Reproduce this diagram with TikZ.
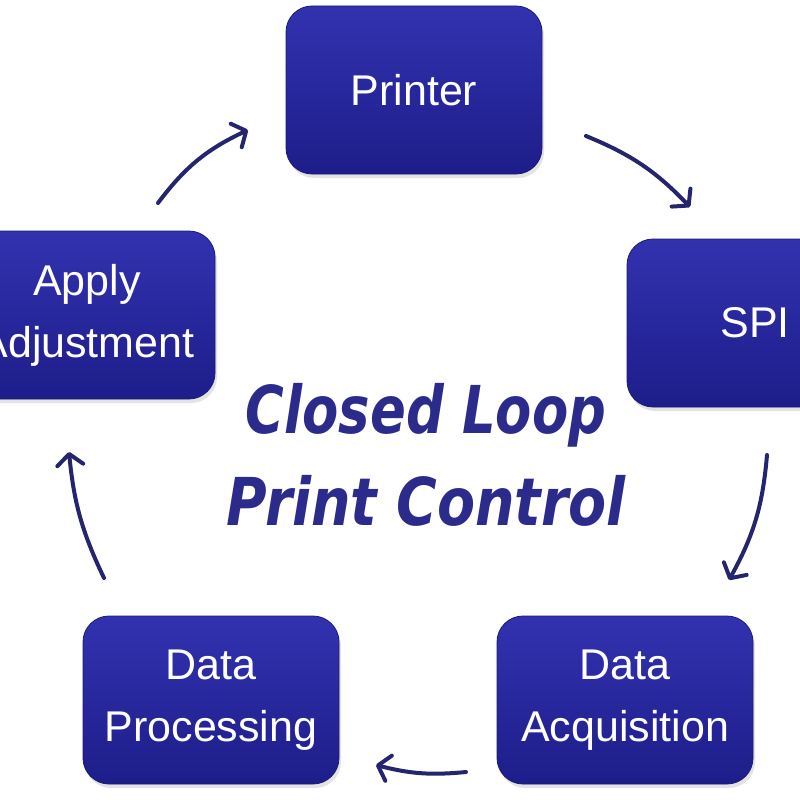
\documentclass[tikz,border=0pt]{standalone}
\usepackage{fontspec}
\setmainfont{Liberation Sans}
\newfontfamily\titlefont{DejaVu Sans}
\usetikzlibrary{arrows.meta,shadows,calc}
\definecolor{boxtop}{HTML}{3232B0}
\definecolor{boxbot}{HTML}{1D1D8A}
\definecolor{boxedge}{HTML}{1A1A75}
\definecolor{arrowc}{HTML}{25256E}
\definecolor{titlec}{HTML}{2B2B8C}
\tikzset{
  stepbox/.style={rounded corners=26pt, minimum width=256pt, minimum height=168pt,
    top color=boxtop, bottom color=boxbot, draw=boxedge, line width=0.8pt,
    text=white, align=center, inner sep=0pt,
    font=\fontsize{43pt}{62pt}\selectfont,
    drop shadow={opacity=0.22, shadow xshift=2pt, shadow yshift=-4pt}},
  flow/.style={draw=arrowc, line width=4pt, line cap=round,
    -{Straight Barb[length=11pt, width=26pt, line width=4pt, round]}},
  titletext/.style={text=titlec, align=center,
    font=\titlefont\bfseries\itshape\fontsize{66pt}{92pt}\selectfont}
}
\begin{document}
\begin{tikzpicture}[x=1pt, y=-1pt]
\useasboundingbox (0,0) rectangle (800,800);
\fill[white] (0,0) rectangle (800,800);
\node[stepbox] (printer) at (414,90) {Printer};
\node[stepbox] (spi) at (755,323) {SPI};
\node[stepbox] (acq) at (625,700) {Data\\Acquisition};
\node[stepbox] (proc) at (211,700) {Data\\Processing};
\node[stepbox] (apply) at (87,315) {Apply\\Adjustment};
\node[titletext] (title) at (426,455) {\scalebox{0.8}[1]{Closed Loop}\\\scalebox{0.84}[1]{Print Control}};
\coordinate (a1s) at (158,203);
\coordinate (a1e) at (248,130);
\coordinate (a2s) at (586,136);
\coordinate (a2e) at (690,207);
\coordinate (a3s) at (767,455);
\coordinate (a3e) at (729,580);
\coordinate (a4s) at (466,772);
\coordinate (a4e) at (376,765);
\coordinate (a5s) at (104,578);
\coordinate (a5e) at (69,452);
\draw[flow] (a1s) to[bend left=14] (a1e);
\draw[flow] (a2s) to[bend left=12] (a2e);
\draw[flow] (a3s) to[bend left=12] (a3e);
\draw[flow] (a4s) to[bend left=10] (a4e);
\draw[flow] (a5s) to[bend left=10] (a5e);
\end{tikzpicture}
\end{document}
